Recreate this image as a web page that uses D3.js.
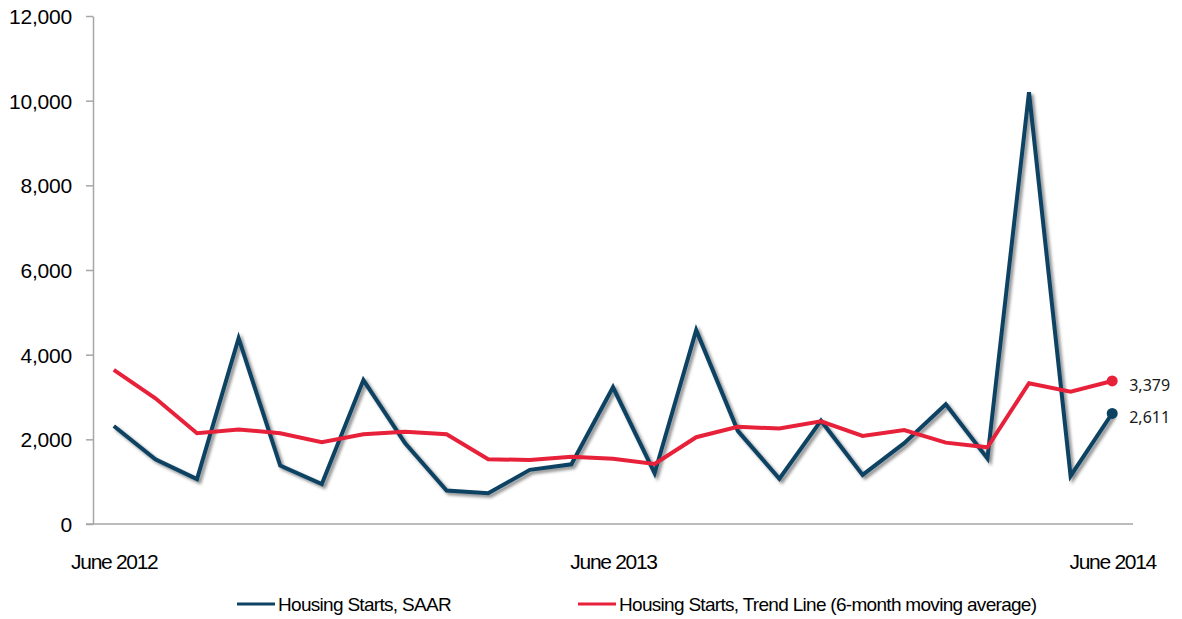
<!DOCTYPE html>
<html>
<head>
<meta charset="utf-8">
<script src="https://cdn.jsdelivr.net/npm/d3@7"></script>
<style>
  body { margin: 0; background: #fff; }
  svg { display: block; }
  .axis path, .axis line { stroke: #a6a6a6; stroke-width: 1.5; }
  .axis text { font-family: "Liberation Sans", Arial, sans-serif; fill: #000; }
</style>
</head>
<body>
<div id="chart"></div>
<script>
// months June 2012 .. June 2014
var months = ["2012-06","2012-07","2012-08","2012-09","2012-10","2012-11","2012-12",
  "2013-01","2013-02","2013-03","2013-04","2013-05","2013-06","2013-07","2013-08",
  "2013-09","2013-10","2013-11","2013-12","2014-01","2014-02","2014-03","2014-04",
  "2014-05","2014-06"];
var saar = [2315, 1530, 1060, 4390, 1380, 945, 3400, 1910, 790, 725, 1280, 1410, 3230,
  1200, 4580, 2200, 1070, 2440, 1160, 1910, 2830, 1550, 10200, 1135, 2611];
var trend = [3640, 2970, 2145, 2235, 2145, 1930, 2120, 2180, 2118, 1530, 1512, 1590, 1540,
  1420, 2050, 2295, 2255, 2425, 2080, 2220, 1922, 1811, 3325, 3126, 3379];
var xTickLabels = {"2012-06": "June 2012", "2013-06": "June 2013", "2014-06": "June 2014"};
var yTicks = [0, 2000, 4000, 6000, 8000, 10000, 12000];
var seriesNames = ["Housing Starts, SAAR", "Housing Starts, Trend Line (6-month moving average)"];
var colors = ["#0d4262", "#e8213a"];

var W = 1182, H = 619;
var svg = d3.select("#chart").append("svg").attr("width", W).attr("height", H);

var defs = svg.append("defs");
var f = defs.append("filter").attr("id", "shadow")
  .attr("x", "-5%").attr("y", "-5%").attr("width", "110%").attr("height", "110%");
f.append("feDropShadow").attr("dx", 2.5).attr("dy", 2.5).attr("stdDeviation", 1.6)
  .attr("flood-color", "#000").attr("flood-opacity", 0.45);

var x = d3.scalePoint().domain(months).range([93, 1133]).padding(0.5);
var y = d3.scaleLinear().domain([0, 12000]).range([524, 16]);

// y axis
svg.append("g")
  .attr("class", "axis")
  .attr("transform", "translate(93,0)")
  .call(d3.axisLeft(y).tickValues(yTicks).tickSize(7).tickSizeOuter(0).tickPadding(14)
    .tickFormat(d3.format(",")))
  .call(function(g) {
    g.selectAll("text").style("font-size", "21px").attr("dy", "0.36em").style("letter-spacing", "-0.2px");
  });

// x axis
var xg = svg.append("g")
  .attr("class", "axis")
  .attr("transform", "translate(0,524)")
  .call(d3.axisBottom(x).tickSize(0).tickSizeOuter(0).tickPadding(30)
    .tickFormat(function(d) { return xTickLabels[d] || ""; }));
xg.select("path.domain").attr("d", "M86,0H1133");
xg.selectAll("text").style("font-size", "21px").style("letter-spacing", "-1.3px");

var line = d3.line()
  .x(function(d, i) { return x(months[i]); })
  .y(function(d) { return y(d); });

[saar, trend].forEach(function(s, k) {
  svg.append("path")
    .datum(s)
    .attr("d", line)
    .attr("fill", "none")
    .attr("stroke", colors[k])
    .attr("stroke-width", 4)
    .attr("stroke-linejoin", "miter")
    .attr("filter", k === 0 ? "url(#shadow)" : null);
});

// end markers + labels
[saar, trend].forEach(function(s, k) {
  var last = s.length - 1;
  svg.append("circle")
    .attr("cx", x(months[last]))
    .attr("cy", y(s[last]))
    .attr("r", 5.5)
    .attr("fill", colors[k]);
  svg.append("text")
    .attr("x", x(months[last]) + 17)
    .attr("y", y(s[last]) + 4)
    .attr("dy", "0.35em")
    .style("font-family", "'Noto Sans', sans-serif")
    .style("font-size", "16px")
    .style("fill", "#1a1a1a")
    .text(d3.format(",")(s[last]));
});

// legend
var legendX = [237, 578];
seriesNames.forEach(function(name, k) {
  var g = svg.append("g").attr("transform", "translate(" + legendX[k] + ",604)");
  g.append("line").attr("x1", 0).attr("x2", 38).attr("y1", 0).attr("y2", 0)
    .attr("stroke", colors[k]).attr("stroke-width", 3);
  g.append("text").attr("x", 41).attr("y", 0).attr("dy", "0.35em")
    .style("font-family", "'Liberation Sans', Arial, sans-serif")
    .style("font-size", "19px")
    .style("letter-spacing", "-0.7px")
    .text(name);
});
</script>
</body>
</html>
